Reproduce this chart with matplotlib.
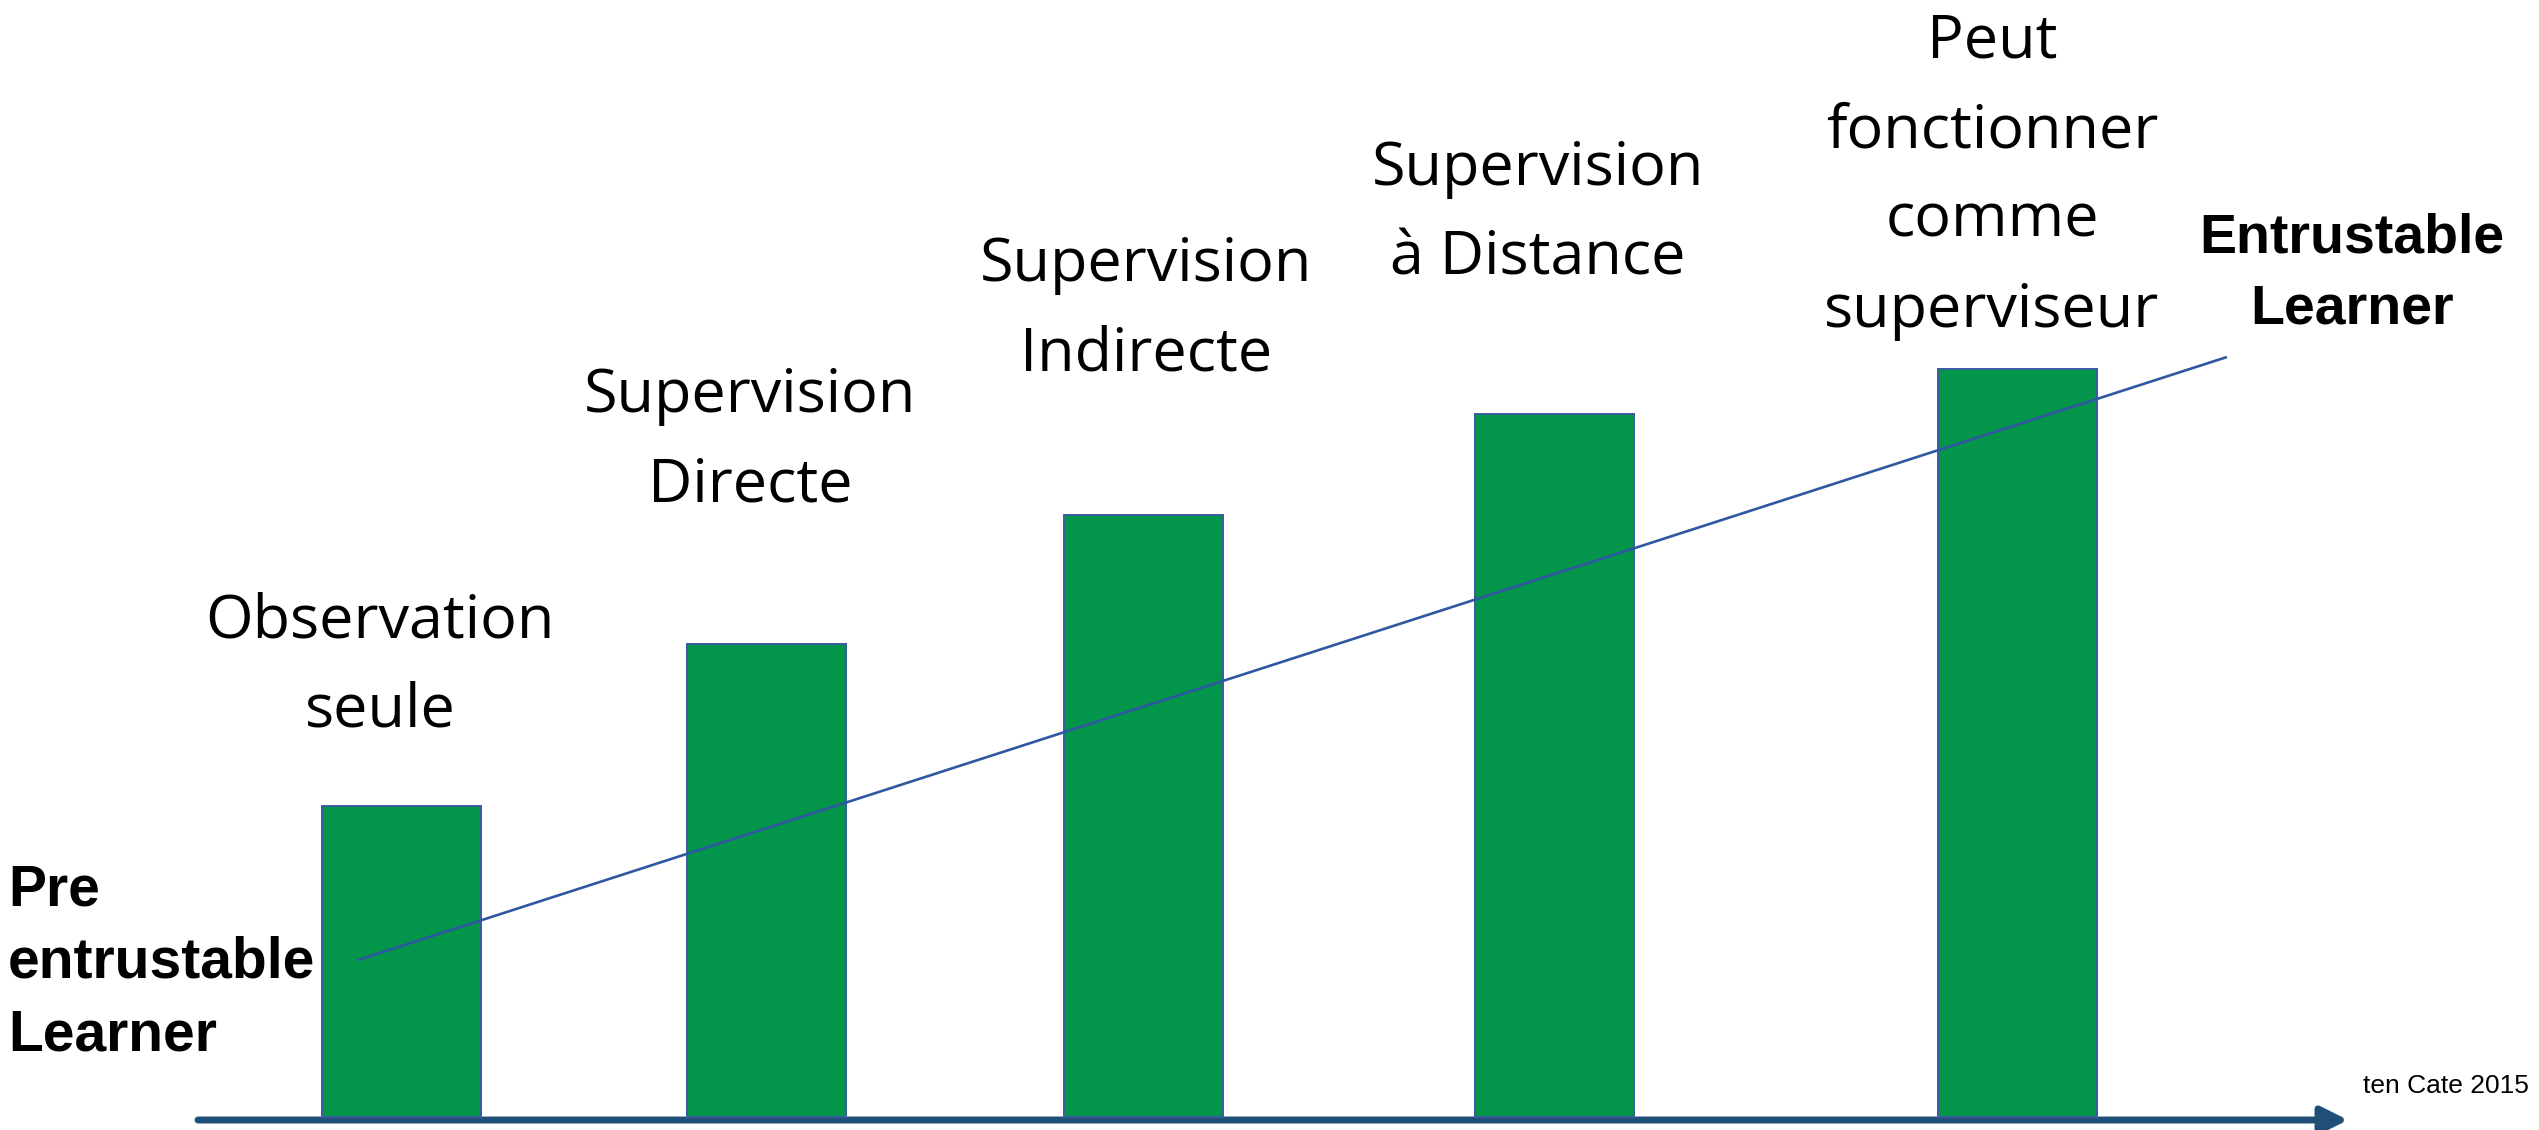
import matplotlib.pyplot as plt

# -----------------------------
# Data (heights in px above the baseline)
# -----------------------------
STAGES = [
    "Observation\nseule",
    "Supervision\nDirecte",
    "Supervision\nIndirecte",
    "Supervision\nà Distance",
    "Peut\nfonctionner\ncomme\nsuperviseur",
]
LEVELS = [311, 473, 602, 703, 748]

# trend line from "pre entrustable" to "entrustable"
TREND_X = [358, 2227]
TREND_Y = [157, 760]

LEFT_LABEL = "Pre\nentrustable\nLearner"
RIGHT_LABEL = "Entrustable\nLearner"
SOURCE = "ten Cate 2015"

# -----------------------------
# Layout (figure pixels)
# -----------------------------
W, H = 2539, 1130
BASE = 1117                      # baseline row in the picture
BAR_X = [401.5, 766, 1143, 1554.5, 2017.5]
BAR_W = 159
LABEL_X = [380, 750, 1146, 1538, 1992]
LABEL_Y = [451, 676, 807, 903, 941]

GREEN = "#03954A"
EDGE = "#3A5BA0"
LINE = "#2E58A0"
AXIS = "#1F4E79"

HAND_FONT = ["Open Sans", "DejaVu Sans"]
BOLD_FONT = ["Liberation Sans", "DejaVu Sans"]

fig = plt.figure(figsize=(W / 100, H / 100), dpi=100)
ax = fig.add_axes([0, 0, 1, 1])
ax.set_xlim(0, W)
ax.set_ylim(BASE - H, BASE)
ax.axis("off")

# baseline arrow
ax.annotate("", xy=(2348, -3), xytext=(198, -3),
            arrowprops=dict(arrowstyle="-|>,head_length=0.8,head_width=0.4",
                            mutation_scale=20, lw=5, color=AXIS,
                            shrinkA=0, shrinkB=0), zorder=1)

# bars
ax.bar(BAR_X, LEVELS, width=BAR_W, bottom=0, color=GREEN,
       edgecolor=EDGE, linewidth=1.4, zorder=2)

# trend line
ax.plot(TREND_X, TREND_Y, color=LINE, lw=1.9, solid_capstyle="butt", zorder=3)

# stage labels
for x, y, txt in zip(LABEL_X, LABEL_Y, STAGES):
    ax.text(x, y, txt, ha="center", va="center", fontsize=44,
            family=HAND_FONT, linespacing=1.65, multialignment="center")

ax.text(8, 154, LEFT_LABEL, ha="left", va="center", fontsize=41,
        family=BOLD_FONT, fontweight="bold", linespacing=1.44)
ax.text(2352, 843, RIGHT_LABEL, ha="center", va="center", fontsize=40,
        family=BOLD_FONT, fontweight="bold", linespacing=1.47,
        multialignment="center")
ax.text(2363, 31, SOURCE, ha="left", va="center", fontsize=19,
        family=BOLD_FONT)

fig.savefig("out.png", dpi=100, facecolor="white")
plt.close(fig)
